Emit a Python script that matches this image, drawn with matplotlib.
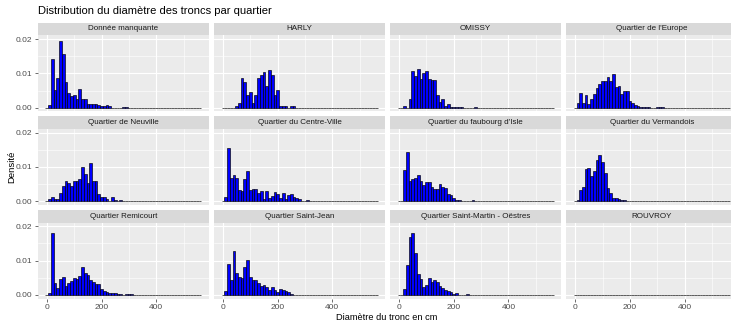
import numpy as np
import matplotlib
matplotlib.use("Agg")
import matplotlib.pyplot as plt

plt.rcParams["font.family"] = ["Liberation Sans", "DejaVu Sans"]

# bin centres (width 10 cm), 0 .. 560
bin_width = 10
bin_centers = np.arange(0, 561, bin_width)

quartiers = [
    "Donnée manquante", "HARLY", "OMISSY", "Quartier de l'Europe",
    "Quartier de Neuville", "Quartier du Centre-Ville", "Quartier du faubourg d'Isle", "Quartier du Vermandois",
    "Quartier Remicourt", "Quartier Saint-Jean", "Quartier Saint-Martin - Oëstres", "ROUVROY",
]

# densities, first value = bin centred on 0
dens_manquante = [0, 0.0009, 0.0141, 0.0052, 0.0087, 0.0195, 0.0157, 0.0075, 0.0044, 0.0033,
                  0.0036, 0.0025, 0.0055, 0.0025, 0.0025, 0.0011, 0.0011, 0.0011, 0.0011, 0.0009,
                  0.0006, 0.0006, 0.0009, 0.0006, 0, 0, 0, 0, 0.0003, 0.0003]
dens_harly = [0, 0, 0, 0, 0, 0.0006, 0.0015, 0.0087, 0.0075, 0.0036,
              0.0045, 0.0015, 0.0036, 0.0087, 0.0095, 0.0103, 0.0064, 0.011, 0.0094, 0.0036,
              0.0051, 0.0006, 0.0006, 0.0006, 0, 0.0006, 0.0006]
dens_omissy = [0, 0, 0.0004, 0, 0.0026, 0.0108, 0.0091, 0.0113, 0.0083, 0.0102,
               0.0108, 0.0083, 0.0082, 0.0082, 0.0036, 0.0017, 0.0026, 0.0006, 0.0011, 0.0003,
               0.0002, 0.0002, 0.0002, 0.0002, 0, 0, 0, 0, 0.0003]
dens_europe = [0, 0.0014, 0.0042, 0.0015, 0.0037, 0.0012, 0.0025, 0.0039, 0.0058, 0.0068,
               0.0077, 0.0077, 0.0089, 0.0079, 0.0097, 0.006, 0.0063, 0.0041, 0.0049, 0.0049,
               0.0019, 0.0015, 0.0008, 0.0004, 0.0003, 0.0003, 0.0003, 0.0003, 0, 0,
               0.0002, 0.0002, 0.0002]
dens_neuville = [0, 0.0007, 0.0012, 0.0007, 0.0007, 0.0024, 0.0045, 0.0059, 0.0054, 0.0046,
                 0.0059, 0.0059, 0.0066, 0.01, 0.0081, 0.0054, 0.0113, 0.0059, 0.0059, 0.0021,
                 0.0013, 0.0013, 0.0007, 0.0002, 0.0012, 0.0003, 0, 0.0004]
dens_centre = [0.0002, 0.0012, 0.0154, 0.0068, 0.0076, 0.0069, 0.0034, 0.003, 0.0066, 0.0088,
               0.0033, 0.0037, 0.0035, 0.0023, 0.003, 0.0008, 0.0029, 0.0011, 0.0015, 0.0026,
               0.0022, 0.0011, 0.0023, 0.0007, 0.0019, 0.0021, 0.0012, 0.001, 0.0007, 0.0002,
               0.0002, 0.0003, 0.0002, 0, 0, 0.0002, 0.0002, 0, 0, 0, 0, 0.0002]
dens_isle = [0, 0.0002, 0.0091, 0.0143, 0.0059, 0.0064, 0.0067, 0.0076, 0.0059, 0.0047,
             0.0056, 0.0056, 0.0041, 0.0036, 0.0037, 0.0051, 0.0042, 0.004, 0.002, 0.0017,
             0.0011, 0.0005, 0.0004, 0.0002, 0.0002, 0, 0, 0.0003]
dens_vermandois = [0, 0.0003, 0.0032, 0.0041, 0.0095, 0.0097, 0.0074, 0.0089, 0.0121, 0.0134,
                   0.0114, 0.0082, 0.0039, 0.0025, 0.0011, 0.0011, 0.0008, 0.0005, 0.0003, 0.0002,
                   0, 0.0002, 0, 0, 0, 0.0002]
dens_remicourt = [0, 0.0006, 0.018, 0.0035, 0.0021, 0.0046, 0.0051, 0.0026, 0.0035, 0.004,
                  0.0049, 0.0047, 0.0055, 0.0082, 0.0063, 0.0059, 0.0043, 0.0037, 0.0031, 0.0031,
                  0.0016, 0.0011, 0.0007, 0.0006, 0.0005, 0.0005, 0.0003, 0.0003, 0.0001, 0.0002,
                  0.0004, 0.0002, 0.0001, 0.0001, 0.0001]
dens_saintjean = [0, 0.001, 0.009, 0.0044, 0.0128, 0.0065, 0.0053, 0.0048, 0.0082, 0.0102,
                  0.0053, 0.0044, 0.0042, 0.0035, 0.0026, 0.003, 0.0022, 0.0015, 0.0022, 0.0015,
                  0.0008, 0.0016, 0.0013, 0.001, 0.0008, 0.0004, 0.0001, 0.0001]
dens_saintmartin = [0, 0.0001, 0.0018, 0.0087, 0.017, 0.0181, 0.0122, 0.006, 0.0047, 0.0024,
                    0.0029, 0.0049, 0.0039, 0.0042, 0.0038, 0.0027, 0.002, 0.0013, 0.001, 0.0007,
                    0.0004, 0.0005, 0.0001, 0, 0, 0.0002]
dens_rouvroy = [0.0001]

all_dens = [dens_manquante, dens_harly, dens_omissy, dens_europe,
            dens_neuville, dens_centre, dens_isle, dens_vermandois,
            dens_remicourt, dens_saintjean, dens_saintmartin, dens_rouvroy]

W, H = 731, 327
fig = plt.figure(figsize=(W / 100, H / 100), dpi=100)

def rect(left, top, w, h):
    return [left / W, 1 - (top + h) / H, w / W, h / H]

col_left = [37.7, 213.8, 389.9, 566.0]
row_top = [35.3, 128.9, 222.5]
pw, ph, sh = 171.5, 76.0, 12.8

xlim = (-33.5, 593.5)
ylim = (-0.00105, 0.0211)
tick_col = "#4D4D4D"

for i, (name, d) in enumerate(zip(quartiers, all_dens)):
    r, c = divmod(i, 4)
    heights = np.zeros(len(bin_centers))
    heights[:len(d)] = d
    ax = fig.add_axes(rect(col_left[c], row_top[r], pw, ph))
    ax.set_facecolor("#EBEBEB")
    ax.bar(bin_centers, heights, width=bin_width, color="blue",
           edgecolor="black", linewidth=0.45, zorder=3)
    ax.set_xlim(*xlim)
    ax.set_ylim(*ylim)
    ax.set_xticks([0, 200, 400])
    ax.set_xticks([100, 300, 500], minor=True)
    ax.set_yticks([0, 0.01, 0.02])
    ax.set_yticks([0.005, 0.015], minor=True)
    ax.grid(which="major", color="white", linewidth=0.8, zorder=0)
    ax.grid(which="minor", color="white", linewidth=0.4, zorder=0)
    ax.set_axisbelow(True)
    for s in ax.spines.values():
        s.set_visible(False)
    ax.tick_params(which="minor", length=0)
    ax.tick_params(which="major", length=2.2, width=0.5, color="#333333",
                   labelsize=6, labelcolor=tick_col, pad=1.5)
    if c == 0:
        ax.set_yticklabels(["0.00", "0.01", "0.02"])
    else:
        ax.tick_params(axis="y", length=0, labelleft=False)
    if r == 2:
        ax.set_xticklabels(["0", "200", "400"])
    else:
        ax.tick_params(axis="x", length=0, labelbottom=False)

    sax = fig.add_axes(rect(col_left[c], row_top[r] - sh, pw, sh))
    sax.set_facecolor("#D9D9D9")
    sax.set_xticks([])
    sax.set_yticks([])
    for s in sax.spines.values():
        s.set_visible(False)
    sax.text(0.5, 0.5, name, ha="center", va="center", fontsize=5.8,
             color="#1A1A1A", transform=sax.transAxes)

fig.text(37.7 / W, 1 - 11.5 / H, "Distribution du diamètre des troncs par quartier",
         ha="left", va="center", fontsize=8.0, color="black")
fig.text(387 / W, 1 - 317.5 / H, "Diamètre du tronc en cm",
         ha="center", va="center", fontsize=6.7, color="black")
fig.text(12 / W, 1 - 167 / H, "Densité", rotation=90,
         ha="center", va="center", fontsize=6.8, color="black")

fig.savefig("out.png", dpi=100)
